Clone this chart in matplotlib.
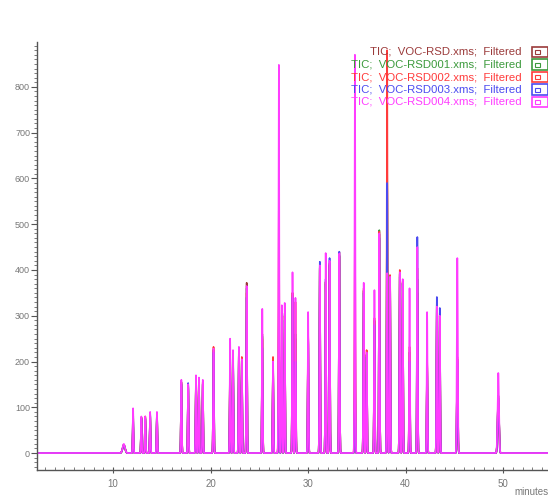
import numpy as np
import matplotlib
matplotlib.use("Agg")
import matplotlib.pyplot as plt
from matplotlib.ticker import MultipleLocator
from matplotlib.patches import Rectangle

plt.rcParams['font.family'] = ['Liberation Sans', 'DejaVu Sans']

# peak table: retention time (min), width (min) and height per run
peak_t = [11.1, 12.05, 12.9, 13.3, 13.8, 14.5, 17.0, 17.7, 18.5, 18.8, 19.2,
          20.3, 22.0, 22.3, 22.9, 23.2, 23.7, 25.3, 26.4, 27.0, 27.3, 27.6,
          28.4, 28.7, 30.0, 31.2, 31.8, 32.2, 33.2, 34.8, 35.7, 36.0, 36.8,
          37.3, 38.1, 38.4, 39.4, 39.7, 40.4, 41.2, 42.2, 43.2, 43.5, 45.3,
          49.5]
peak_w = [0.12, 0.04, 0.04, 0.04, 0.04, 0.04, 0.04, 0.04, 0.04, 0.04, 0.04,
          0.04, 0.04, 0.04, 0.04, 0.04, 0.04, 0.04, 0.04, 0.04, 0.04, 0.04,
          0.04, 0.04, 0.04, 0.04, 0.04, 0.04, 0.04, 0.04, 0.04, 0.04, 0.04,
          0.04, 0.04, 0.04, 0.04, 0.04, 0.04, 0.04, 0.04, 0.04, 0.04, 0.05,
          0.07]
h_rsd = [18, 80, 76, 76, 82, 86, 152, 145, 160, 158, 150,
         225, 210, 200, 225, 200, 372, 260, 195, 323, 210, 300,
         350, 250, 258, 405, 374, 410, 430, 181, 355, 215, 290,
         478, 600, 380, 390, 372, 220, 350, 200, 325, 300, 205,
         125]
h_rsd001 = [18, 85, 78, 78, 84, 86, 155, 148, 162, 160, 152,
            226, 215, 205, 222, 200, 360, 255, 198, 300, 200, 305,
            345, 260, 255, 405, 370, 412, 432, 300, 355, 215, 288,
            487, 620, 380, 392, 372, 220, 380, 195, 325, 300, 205,
            125]
h_rsd002 = [18, 60, 78, 80, 76, 80, 155, 148, 165, 160, 155,
            232, 200, 190, 228, 210, 350, 250, 210, 531, 203, 300,
            350, 330, 258, 400, 374, 415, 439, 481, 360, 225, 295,
            484, 880, 389, 400, 375, 232, 404, 203, 330, 305, 210,
            120]
h_rsd003 = [18, 72, 75, 74, 85, 85, 150, 153, 150, 140, 150,
            220, 180, 210, 220, 195, 340, 230, 190, 190, 180, 290,
            340, 200, 250, 418, 380, 426, 440, 153, 350, 210, 280,
            470, 590, 380, 385, 370, 200, 472, 190, 341, 317, 200,
            120]
h_rsd004 = [20, 98, 80, 80, 90, 90, 160, 150, 170, 165, 160,
            228, 250, 225, 232, 205, 365, 315, 200, 848, 323, 328,
            395, 339, 308, 410, 437, 420, 436, 870, 372, 220, 356,
            480, 393, 385, 395, 380, 360, 450, 308, 320, 300, 426,
            175]

runs = ['VOC-RSD', 'VOC-RSD001', 'VOC-RSD002', 'VOC-RSD003', 'VOC-RSD004']
heights = [h_rsd, h_rsd001, h_rsd002, h_rsd003, h_rsd004]
colors = ['#9b3b3b', '#3c9a3c', '#ff3b3b', '#4b4bf0', '#ff3cff']

t = np.arange(2.2, 54.8, 0.004)


def trace(h):
    y = np.zeros_like(t)
    for tp, w, hp in zip(peak_t, peak_w, h):
        y += hp * np.exp(-0.5 * ((t - tp) / w) ** 2)
    return y


fig = plt.figure(figsize=(5.48, 4.99), dpi=100)
ax = fig.add_axes([37 / 548, 29 / 499, 512 / 548, 428 / 499])

for h, c in zip(heights, colors):
    ax.plot(t, trace(h), color=c, lw=1.2)

ax.set_xlim(2.2, 54.7)
ax.set_ylim(-37, 898)

ax.xaxis.set_major_locator(MultipleLocator(10))
ax.xaxis.set_minor_locator(MultipleLocator(1))
ax.yaxis.set_major_locator(MultipleLocator(100))
ax.yaxis.set_minor_locator(MultipleLocator(10))

ax.spines['top'].set_visible(False)
for s in ['left', 'bottom', 'right']:
    ax.spines[s].set_color('#555555')
    ax.spines[s].set_linewidth(1.0)

ax.tick_params(axis='y', which='major', direction='out', length=4,
               color='#555555', labelsize=6.5, labelcolor='#777777', pad=1,
               right=True)
ax.tick_params(axis='y', which='minor', direction='out', length=2.5,
               color='#666666', right=False)
ax.tick_params(axis='x', which='major', direction='inout', length=5,
               color='#555555', labelsize=7, labelcolor='#777777', pad=4)
ax.tick_params(axis='x', which='minor', direction='in', length=2.5,
               color='#666666')

fig.text(514 / 548, 1 - 492 / 499, 'minutes', fontsize=7, color='#777777',
         ha='left', va='center')

# run labels with their line markers
for i, (name, c) in enumerate(zip(runs, colors)):
    yc = 1 - (52 + 12.5 * i) / 499
    fig.text(522 / 548, yc, 'TIC;  %s.xms;  Filtered' % name, color=c,
             fontsize=8.2, ha='right', va='center')
    fig.patches.append(Rectangle((532 / 548, yc - 5 / 499), 16 / 548, 10 / 499,
                                 transform=fig.transFigure, fill=False,
                                 edgecolor=c, lw=1.2))
    fig.patches.append(Rectangle((535 / 548, yc - 2 / 499), 5 / 548, 4 / 499,
                                 transform=fig.transFigure, fill=False,
                                 edgecolor=c, lw=0.8))

fig.savefig('out.png', dpi=100)
